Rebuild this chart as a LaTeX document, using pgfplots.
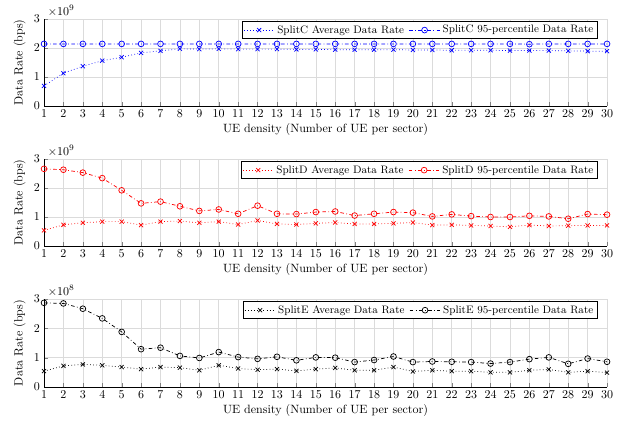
\documentclass[border=0pt]{standalone}
\usepackage{pgfplots}
\pgfplotsset{compat=1.18}
\definecolor{gridc}{gray}{0.86}
\pgfplotsset{
  panel/.style={
    scale only axis, width=469.2pt, height=72.5pt, anchor=south west,
    xmin=1, xmax=30, ymin=0,
    xtick={1,...,30},
    axis lines*=left, tick align=inside,
    major tick length=3.5pt,
    grid=major, major grid style={gridc, line width=0.5pt},
    xlabel={UE density (Number of UE per sector)},
    ylabel={Data Rate (bps)},
    legend columns=2,
    legend style={at={(0.983,0.975)}, anchor=north east, font=\small, draw=black, line width=0.6pt, inner sep=1.2pt,
      /tikz/every even column/.append style={column sep=2pt}},
    legend image code/.code={\draw[mark repeat=2,mark phase=2] plot coordinates {(0cm,0cm)(0.45cm,0cm)(0.9cm,0cm)};},
    legend cell align=left,
    every axis plot/.append style={line width=0.6pt, mark size=2.4pt, mark options={solid}},
    xlabel style={yshift=2pt},
  }
}
\begin{document}
\begin{tikzpicture}
\path[use as bounding box] (0,0) rectangle (527.5pt,357.5pt);
% ---------------- Top: SplitC
\begin{axis}[panel, at={(36.67pt,269.2pt)}, ymax=3e9, ytick={0,1e9,2e9,3e9},
  scaled y ticks=base 10:-9, ytick scale label code/.code={$\times 10^{9}$}]
\addplot[blue, dotted, mark=x] coordinates {
(1,0.69e9)(2,1.13e9)(3,1.37e9)(4,1.56e9)(5,1.68e9)(6,1.83e9)(7,1.90e9)(8,1.97e9)(9,1.96e9)(10,1.97e9)
(11,1.96e9)(12,1.96e9)(13,1.96e9)(14,1.95e9)(15,1.95e9)(16,1.94e9)(17,1.94e9)(18,1.94e9)(19,1.94e9)(20,1.93e9)
(21,1.93e9)(22,1.92e9)(23,1.92e9)(24,1.92e9)(25,1.91e9)(26,1.91e9)(27,1.91e9)(28,1.90e9)(29,1.89e9)(30,1.89e9)};
\addlegendentry{SplitC Average Data Rate}
\addplot[blue, dashdotted, mark=o] coordinates {
(1,2.14e9)(2,2.14e9)(3,2.14e9)(4,2.14e9)(5,2.14e9)(6,2.14e9)(7,2.14e9)(8,2.14e9)(9,2.14e9)(10,2.14e9)
(11,2.14e9)(12,2.14e9)(13,2.14e9)(14,2.14e9)(15,2.14e9)(16,2.14e9)(17,2.14e9)(18,2.14e9)(19,2.14e9)(20,2.14e9)
(21,2.14e9)(22,2.14e9)(23,2.14e9)(24,2.14e9)(25,2.14e9)(26,2.13e9)(27,2.14e9)(28,2.14e9)(29,2.14e9)(30,2.14e9)};
\addlegendentry{SplitC 95-percentile Data Rate}
\end{axis}
% ---------------- Middle: SplitD
\begin{axis}[panel, at={(36.67pt,152.5pt)}, ymax=3e9, ytick={0,1e9,2e9,3e9},
  scaled y ticks=base 10:-9, ytick scale label code/.code={$\times 10^{9}$}]
\addplot[red, dotted, mark=x] coordinates {
(1,0.54e9)(2,0.73e9)(3,0.80e9)(4,0.84e9)(5,0.84e9)(6,0.72e9)(7,0.84e9)(8,0.86e9)(9,0.80e9)(10,0.84e9)
(11,0.74e9)(12,0.88e9)(13,0.76e9)(14,0.74e9)(15,0.78e9)(16,0.81e9)(17,0.76e9)(18,0.76e9)(19,0.78e9)(20,0.81e9)
(21,0.72e9)(22,0.73e9)(23,0.71e9)(24,0.69e9)(25,0.66e9)(26,0.72e9)(27,0.69e9)(28,0.70e9)(29,0.71e9)(30,0.71e9)};
\addlegendentry{SplitD Average Data Rate}
\addplot[red, dashdotted, mark=o] coordinates {
(1,2.66e9)(2,2.63e9)(3,2.53e9)(4,2.34e9)(5,1.92e9)(6,1.47e9)(7,1.53e9)(8,1.37e9)(9,1.21e9)(10,1.26e9)
(11,1.11e9)(12,1.39e9)(13,1.11e9)(14,1.10e9)(15,1.17e9)(16,1.19e9)(17,1.05e9)(18,1.11e9)(19,1.17e9)(20,1.15e9)
(21,1.02e9)(22,1.09e9)(23,1.03e9)(24,1.00e9)(25,1.00e9)(26,1.04e9)(27,1.02e9)(28,0.94e9)(29,1.10e9)(30,1.08e9)};
\addlegendentry{SplitD 95-percentile Data Rate}
\end{axis}
% ---------------- Bottom: SplitE
\begin{axis}[panel, at={(36.67pt,35pt)}, height=73.3pt, ymax=3e8, ytick={0,1e8,2e8,3e8},
  scaled y ticks=base 10:-8, ytick scale label code/.code={$\times 10^{8}$}]
\addplot[black, dotted, mark=x] coordinates {
(1,0.54e8)(2,0.72e8)(3,0.77e8)(4,0.74e8)(5,0.68e8)(6,0.61e8)(7,0.68e8)(8,0.66e8)(9,0.57e8)(10,0.74e8)
(11,0.63e8)(12,0.59e8)(13,0.61e8)(14,0.55e8)(15,0.61e8)(16,0.65e8)(17,0.57e8)(18,0.57e8)(19,0.68e8)(20,0.53e8)
(21,0.57e8)(22,0.54e8)(23,0.54e8)(24,0.50e8)(25,0.50e8)(26,0.57e8)(27,0.60e8)(28,0.50e8)(29,0.54e8)(30,0.49e8)};
\addlegendentry{SplitE Average Data Rate}
\addplot[black, dashdotted, mark=o] coordinates {
(1,2.87e8)(2,2.85e8)(3,2.67e8)(4,2.34e8)(5,1.88e8)(6,1.29e8)(7,1.34e8)(8,1.06e8)(9,0.99e8)(10,1.19e8)
(11,1.02e8)(12,0.96e8)(13,1.03e8)(14,0.91e8)(15,1.01e8)(16,1.00e8)(17,0.85e8)(18,0.92e8)(19,1.04e8)(20,0.85e8)
(21,0.87e8)(22,0.86e8)(23,0.85e8)(24,0.80e8)(25,0.85e8)(26,0.95e8)(27,1.01e8)(28,0.79e8)(29,0.97e8)(30,0.86e8)};
\addlegendentry{SplitE 95-percentile Data Rate}
\end{axis}
\end{tikzpicture}
\end{document}
